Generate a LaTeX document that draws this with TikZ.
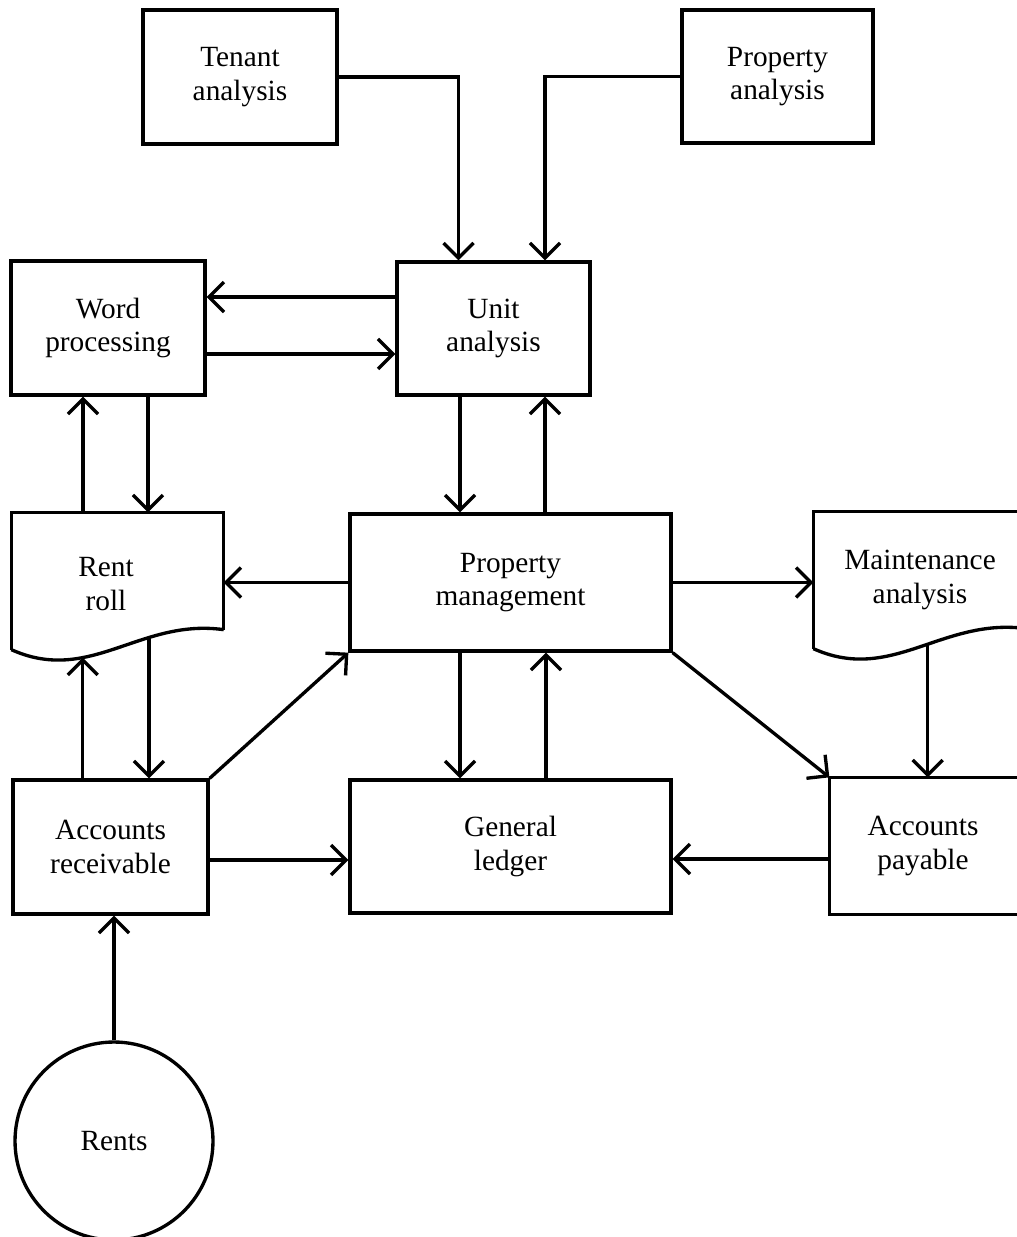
\documentclass[tikz,border=0pt]{standalone}
\usepackage{fontspec}
\setmainfont{Liberation Serif}
\usetikzlibrary{arrows.meta,calc}
\begin{document}
\begin{tikzpicture}[x=0.02cm,y=-0.02cm,line width=1.9pt,
  txtfont/.style={font=\fontsize{16.7}{19}\selectfont},
  box/.style={draw, rectangle, align=center, inner sep=0pt, txtfont},
  ghost/.style={rectangle, align=center, inner sep=0pt, txtfont},
  arr/.style={-{Straight Barb[length=3mm,width=6mm]}}]
\clip (0,0) rectangle (1017,1237);
% nodes
\node[box, minimum width=3.88cm, minimum height=2.68cm] (tenant) at (240,77) {Tenant\\analysis};
\node[box, minimum width=3.82cm, minimum height=2.66cm] (propan) at (777.5,76.5) {Property\\analysis};
\node[box, minimum width=3.88cm, minimum height=2.68cm] (word) at (108,328) {Word\\processing};
\node[box, minimum width=3.86cm, minimum height=2.66cm] (unit) at (493.5,328.5) {Unit\\analysis};
\node[ghost, minimum width=4.18cm, minimum height=2.68cm] (rent) at (117.5,581) {};
\node[ghost] (renttext) at (106,584) {Rent\\roll};
\node[box, minimum width=6.42cm, minimum height=2.74cm] (pm) at (510.5,582.5) {Property\\management};
\node[ghost, minimum width=4.2cm, minimum height=2.68cm] (maint) at (920,580) {Maintenance\\analysis};
\node[box, minimum width=3.90cm, minimum height=2.68cm] (ar) at (110.5,847) {Accounts\\receivable};
\node[box, minimum width=6.42cm, minimum height=2.66cm] (gl) at (510.5,846.5) {General\\ledger};
\node[ghost, minimum width=3.68cm, minimum height=2.68cm] (ap) at (923,846) {Accounts\\payable};
\node[box, circle, minimum size=3.96cm] (rents) at (114,1141) {Rents};
% document shapes
\draw (rent.south west) -- (rent.north west) -- (rent.north east) -- ([yshift=0.4cm]rent.south east);
\draw (rent.south west) .. controls (90,685) and (140,618) .. ([yshift=0.4cm]rent.south east)
  coordinate[pos=1/3] (rw1) coordinate[pos=2/3] (rw2);
\draw (maint.south west) -- (maint.north west) -- (maint.north east) -- ([yshift=0.4cm]maint.south east);
\draw (maint.south west) .. controls (892,684) and (942,617) .. ([yshift=0.4cm]maint.south east)
  coordinate[pos=0.55] (mw);
% accounts payable (right side cut off)
\draw ([xshift=1cm]ap.north east) -- (ap.north west) -- (ap.south west) -- ([xshift=1cm]ap.south east);
% connectors
\draw[arr] (tenant.east) -| ([xshift=-0.7cm]unit.north);
\draw[arr] (propan.west) -| ([xshift=1.03cm]unit.north);
\draw[arr] ([yshift=0.63cm]unit.west) -- ([yshift=0.63cm]unit.west -| word.east);
\draw[arr] ([yshift=-0.51cm]unit.west -| word.east) -- ([yshift=-0.51cm]unit.west);
\draw[arr] ([xshift=-0.5cm]word.south |- rent.north) -- ([xshift=-0.5cm]word.south);
\draw[arr] ([xshift=0.8cm]word.south) -- ([xshift=0.8cm]word.south |- rent.north);
\draw[arr] ([xshift=-0.67cm]unit.south) -- ([xshift=-0.67cm]unit.south |- pm.north);
\draw[arr] ([xshift=1.03cm]unit.south |- pm.north) -- ([xshift=1.03cm]unit.south);
\draw[arr] (pm.west) -- (pm.west -| rent.east);
\draw[arr] (pm.east) -- (pm.east -| maint.west);
\draw[arr] (rw1 |- ar.north) -- (rw1);
\draw[arr] (rw2) -- (rw2 |- ar.north);
\draw[arr] ([xshift=-1.01cm]pm.south) -- ([xshift=-1.01cm]pm.south |- gl.north);
\draw[arr] ([xshift=0.71cm]pm.south |- gl.north) -- ([xshift=0.71cm]pm.south);
\draw[arr] (ar.north east) -- (pm.south west);
\draw[arr] (pm.south east) -- (ap.north west);
\draw[arr] (mw) -- (mw |- ap.north);
\draw[arr] ([yshift=-0.26cm]ar.east) -- ([yshift=-0.26cm]ar.east -| gl.west);
\draw[arr] ([yshift=-0.26cm]ap.west) -- ([yshift=-0.26cm]ap.west -| gl.east);
\draw[arr] (rents.north) -- (rents.north |- ar.south);
\end{tikzpicture}
\end{document}
